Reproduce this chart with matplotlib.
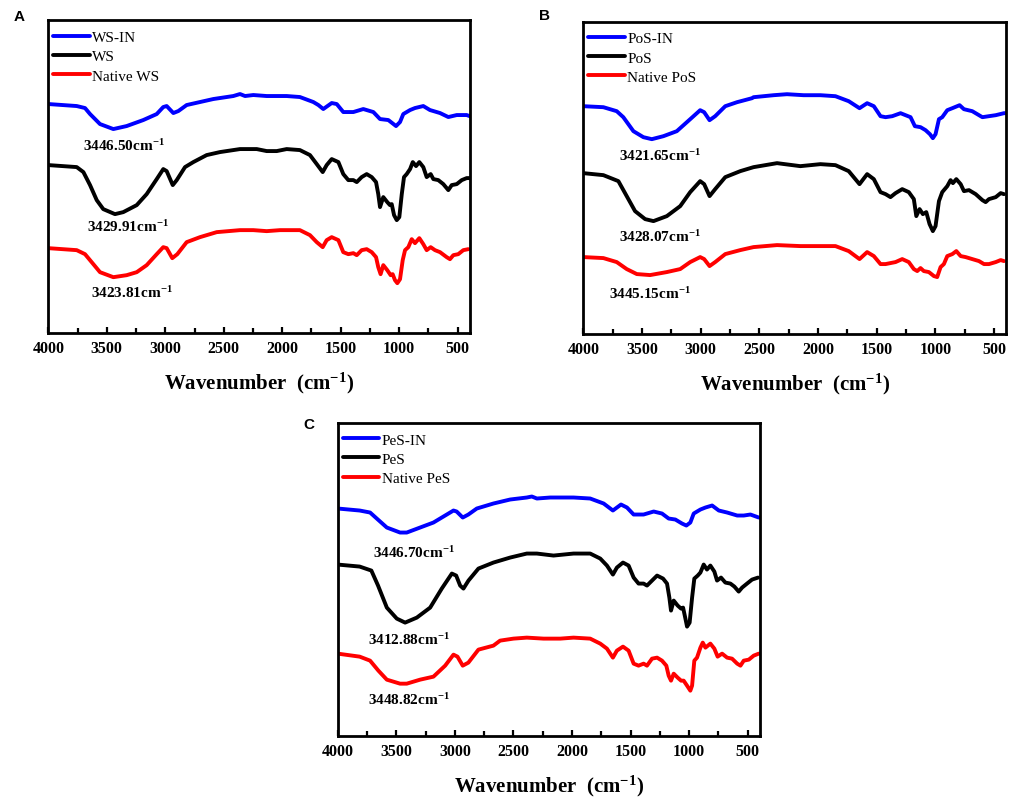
import matplotlib
matplotlib.use("Agg")
import matplotlib.pyplot as plt
from matplotlib.ticker import MultipleLocator

plt.rcParams['font.family'] = ['Liberation Serif', 'DejaVu Serif']
plt.rcParams['mathtext.fontset'] = 'custom'
plt.rcParams['mathtext.rm'] = 'Liberation Serif:bold'
plt.rcParams['mathtext.it'] = 'Liberation Serif:bold'
plt.rcParams['mathtext.bf'] = 'Liberation Serif:bold'

# ---------------- Panel A ----------------
ws_in_wn = [4000, 3757, 3686, 3643, 3558, 3444, 3330, 3188, 3073, 3017, 2988, 2931, 2888, 2817, 2703, 2589,
            2418, 2361, 2318, 2247, 2133, 1962, 1849, 1734, 1691, 1649, 1577, 1534, 1478, 1392, 1307, 1221,
            1164, 1093, 1027, 993, 965, 907, 865, 794, 737, 651, 580, 508, 423, 400]
ws_in_t = [229, 227, 225, 219, 209, 204, 207, 213, 219, 226, 227, 220, 222, 228, 231, 234,
           237, 239, 237, 238, 237, 237, 236, 231, 228, 224, 230, 229, 221, 221, 224, 221,
           214, 213, 207, 211, 219, 223, 225, 227, 223, 220, 216, 218, 218, 217]

ws_wn = [4000, 3757, 3700, 3643, 3586, 3530, 3430, 3359, 3244, 3159, 3073, 3017, 2988, 2936, 2902, 2831,
         2760, 2646, 2532, 2361, 2218, 2133, 2047, 1962, 1849, 1763, 1705, 1654, 1620, 1577, 1520, 1478,
         1435, 1392, 1363, 1321, 1278, 1235, 1198, 1179, 1164, 1136, 1102, 1079, 1064, 1044, 1021, 999,
         978, 959, 936, 907, 884, 856, 828, 794, 765, 731, 708, 666, 623, 580, 551, 508, 465, 423, 400]
ws_t = [168, 166, 161, 148, 133, 124, 119, 121, 128, 139, 154, 164, 162, 148, 153, 166,
        171, 178, 181, 184, 184, 182, 182, 184, 183, 178, 169, 161, 168, 174, 171, 159,
        153, 153, 151, 156, 159, 156, 151, 139, 126, 136, 131, 128, 129, 118, 113, 116,
        139, 156, 159, 164, 171, 167, 171, 166, 156, 159, 154, 153, 149, 143, 148, 149, 153, 155, 155]

nws_wn = [4000, 3757, 3686, 3629, 3558, 3444, 3330, 3244, 3159, 3073, 3017, 2988, 2940, 2897, 2817, 2703,
          2560, 2361, 2247, 2133, 2019, 1849, 1763, 1705, 1654, 1620, 1577, 1520, 1478, 1435, 1392, 1363,
          1321, 1278, 1235, 1198, 1179, 1159, 1136, 1102, 1073, 1056, 1036, 1016, 993, 970, 950, 922,
          893, 865, 828, 794, 765, 731, 694, 651, 594, 566, 537, 495, 452, 409]
nws_t = [85, 83, 79, 71, 61, 56, 58, 61, 68, 79, 86, 85, 75, 79, 91, 96,
         101, 103, 103, 102, 103, 103, 98, 91, 86, 93, 96, 93, 81, 79, 80, 78,
         83, 84, 81, 76, 66, 59, 68, 63, 58, 59, 53, 50, 54, 73, 83, 86,
         94, 90, 95, 89, 83, 86, 83, 81, 76, 74, 78, 79, 83, 84]

# ---------------- Panel B ----------------
pos_in_wn = [4000, 3829, 3715, 3659, 3573, 3488, 3416, 3317, 3203, 3089, 3004, 2970, 2924, 2876, 2790, 2690,
             2562, 2549, 2378, 2264, 2122, 1979, 1851, 1738, 1646, 1581, 1524, 1467, 1424, 1367, 1296, 1211,
             1174, 1126, 1083, 1046, 1021, 998, 969, 941, 898, 855, 793, 756, 685, 599, 543, 485, 415, 400]
pos_in_t = [228, 227, 223, 217, 203, 197, 195, 198, 203, 215, 224, 222, 214, 218, 228, 232,
            236, 237, 239, 240, 239, 239, 238, 233, 226, 231, 228, 218, 217, 218, 221, 217,
            208, 207, 204, 200, 196, 200, 215, 217, 224, 226, 229, 225, 223, 217, 218, 219, 221, 221]

pos_wn = [4000, 3829, 3701, 3630, 3559, 3473, 3402, 3288, 3174, 3089, 3004, 2970, 2924, 2876, 2790, 2662,
          2549, 2349, 2150, 1979, 1851, 1738, 1646, 1581, 1524, 1467, 1424, 1382, 1339, 1282, 1226, 1183,
          1162, 1134, 1106, 1077, 1049, 1021, 998, 969, 941, 898, 870, 850, 821, 784, 756, 713,
          656, 599, 571, 543, 485, 443, 415]
pos_t = [161, 159, 153, 138, 123, 115, 113, 118, 128, 142, 153, 150, 138, 145, 157, 163,
         167, 171, 168, 170, 169, 163, 150, 160, 155, 142, 140, 137, 141, 145, 142, 135,
         118, 125, 120, 122, 110, 103, 108, 133, 142, 148, 154, 151, 155, 150, 143, 144,
         140, 134, 132, 135, 137, 141, 140]

npos_wn = [4000, 3829, 3715, 3630, 3544, 3431, 3288, 3174, 3089, 3004, 2970, 2924, 2876, 2790, 2662, 2549,
           2349, 2150, 1979, 1851, 1738, 1646, 1581, 1524, 1467, 1424, 1382, 1339, 1282, 1226, 1183, 1154,
           1126, 1098, 1055, 1012, 984, 955, 927, 898, 855, 821, 784, 742, 685, 628, 585, 543, 485, 443, 415]
npos_t = [77, 76, 72, 65, 60, 59, 62, 65, 72, 77, 75, 68, 72, 80, 84, 87,
          89, 88, 88, 88, 83, 75, 82, 78, 70, 70, 71, 72, 75, 72, 65, 63,
          66, 63, 62, 58, 57, 67, 70, 78, 80, 83, 78, 77, 75, 73, 70, 70, 72, 74, 73]

# ---------------- Panel C ----------------
pes_in_wn = [4000, 3813, 3724, 3667, 3581, 3468, 3411, 3297, 3183, 3069, 3012, 2985, 2933, 2885, 2813, 2671,
             2528, 2386, 2343, 2300, 2186, 1987, 1845, 1730, 1651, 1582, 1531, 1474, 1389, 1303, 1232, 1175,
             1118, 1061, 1024, 990, 961, 904, 861, 804, 747, 676, 590, 534, 477, 406]
pes_in_t = [227, 225, 223, 217, 208, 203, 203, 208, 213, 221, 225, 224, 218, 221, 227, 232,
            236, 238, 239, 237, 238, 238, 237, 232, 225, 231, 228, 221, 221, 224, 222, 217,
            216, 212, 210, 213, 222, 226, 228, 230, 225, 223, 220, 220, 221, 218]

pes_wn = [4000, 3813, 3713, 3656, 3581, 3496, 3425, 3325, 3211, 3112, 3026, 2989, 2955, 2927, 2884, 2799,
          2671, 2528, 2386, 2300, 2158, 1987, 1845, 1759, 1702, 1651, 1617, 1565, 1517, 1474, 1432, 1389,
          1360, 1317, 1274, 1223, 1189, 1169, 1155, 1132, 1098, 1069, 1052, 1032, 1018, 996, 975, 956,
          927, 904, 876, 848, 819, 785, 762, 728, 691, 648, 614, 577, 548, 506, 463, 412]
pes_t = [171, 169, 165, 150, 128, 117, 113, 118, 128, 147, 162, 160, 150, 147, 155, 167,
         173, 178, 182, 182, 180, 182, 182, 177, 170, 161, 168, 173, 170, 158, 152, 152,
         150, 155, 160, 157, 152, 138, 125, 135, 130, 127, 128, 117, 109, 113, 138, 157,
         160, 163, 171, 166, 170, 164, 155, 158, 153, 152, 149, 144, 148, 152, 156, 158]

npes_wn = [4000, 3813, 3724, 3653, 3581, 3468, 3411, 3297, 3183, 3083, 3012, 2978, 2933, 2885, 2799, 2671,
           2614, 2500, 2386, 2243, 2100, 1987, 1845, 1759, 1702, 1651, 1617, 1565, 1517, 1474, 1432, 1389,
           1360, 1317, 1274, 1232, 1195, 1175, 1155, 1132, 1098, 1069, 1047, 1018, 990, 975, 956, 933,
           904, 884, 861, 819, 785, 757, 719, 676, 634, 590, 562, 534, 491, 449, 406]
npes_t = [82, 79, 75, 65, 56, 52, 52, 56, 59, 70, 81, 79, 70, 73, 86, 90,
          95, 97, 98, 97, 97, 98, 97, 92, 87, 78, 85, 89, 85, 72, 70, 72,
          70, 77, 78, 75, 70, 60, 55, 62, 58, 55, 55, 50, 45, 50, 75, 78,
          88, 93, 88, 92, 87, 79, 82, 78, 77, 72, 70, 75, 76, 80, 82]

panels = [
    dict(letter='A', rect=[0.0473, 0.5843, 0.4130, 0.3890], lpos=(19, 17),
         names=['WS-IN', 'WS', 'Native WS'],
         series=[(ws_in_wn, ws_in_t), (ws_wn, ws_t), (nws_wn, nws_t)],
         peaks=['3446.50', '3429.91', '3423.81'],
         peak_pos=[(3353, 188), (3318, 107), (3287, 41)]),
    dict(letter='B', rect=[0.5713, 0.5833, 0.4143, 0.3884], lpos=(544, 16.5),
         names=['PoS-IN', 'PoS', 'Native PoS'],
         series=[(pos_in_wn, pos_in_t), (pos_wn, pos_t), (npos_wn, npos_t)],
         peaks=['3421.65', '3428.07', '3445.15'],
         peak_pos=[(3345, 179), (3345, 98), (3431, 41)]),
    dict(letter='C', rect=[0.3308, 0.0837, 0.4136, 0.3890], lpos=(309, 425),
         names=['PeS-IN', 'PeS', 'Native PeS'],
         series=[(pes_in_wn, pes_in_t), (pes_wn, pes_t), (npes_wn, npes_t)],
         peaks=['3446.70', '3412.88', '3448.82'],
         peak_pos=[(3348, 184), (3389, 97), (3389, 37)]),
]

colors = ['#0000ff', '#000000', '#ff0000']

fig = plt.figure(figsize=(10.21, 8.04), dpi=100)

for p in panels:
    ax = fig.add_axes(p['rect'])
    lines = []
    for (x, y), c, name in zip(p['series'], colors, p['names']):
        ln, = ax.plot(x, y, color=c, lw=2.8, solid_joinstyle='round', solid_capstyle='round', label=name)
        lines.append(ln)
    ax.set_xlim(4000, 395)
    ax.set_ylim(0, 312.5)
    ax.xaxis.set_major_locator(MultipleLocator(500))
    ax.xaxis.set_minor_locator(MultipleLocator(250))
    ax.tick_params(axis='x', which='both', direction='in', top=False, bottom=True,
                   width=1.6, labelsize=11.5, pad=5)
    ax.tick_params(axis='x', which='major', length=4)
    ax.tick_params(axis='x', which='minor', length=3.5)
    ax.set_yticks([])
    for lab in ax.get_xticklabels():
        lab.set_fontweight('bold')
    for s in ax.spines.values():
        s.set_linewidth(2.0)
    ax.set_xlabel(r'Wavenumber  (cm$^{-1}$)', fontsize=15, fontweight='bold', labelpad=10)
    for txt, (xx, yy) in zip(p['peaks'], p['peak_pos']):
        ax.text(xx, yy, txt + r'cm$^{-1}$', ha='center', va='center', fontsize=11, fontweight='bold')
    ax.legend(handles=lines, loc='upper left', bbox_to_anchor=(0.012, 0.968), frameon=False,
              handlelength=2.4, handletextpad=0.15, labelspacing=0.36, borderaxespad=0, borderpad=0,
              prop={'family': 'Liberation Serif', 'size': 11})
    fig.text(p['lpos'][0] / 1021, 1 - p['lpos'][1] / 804, p['letter'], ha='center', va='center',
             fontsize=11, fontweight='bold', family='Liberation Sans')

fig.savefig('out.png', dpi=100)
